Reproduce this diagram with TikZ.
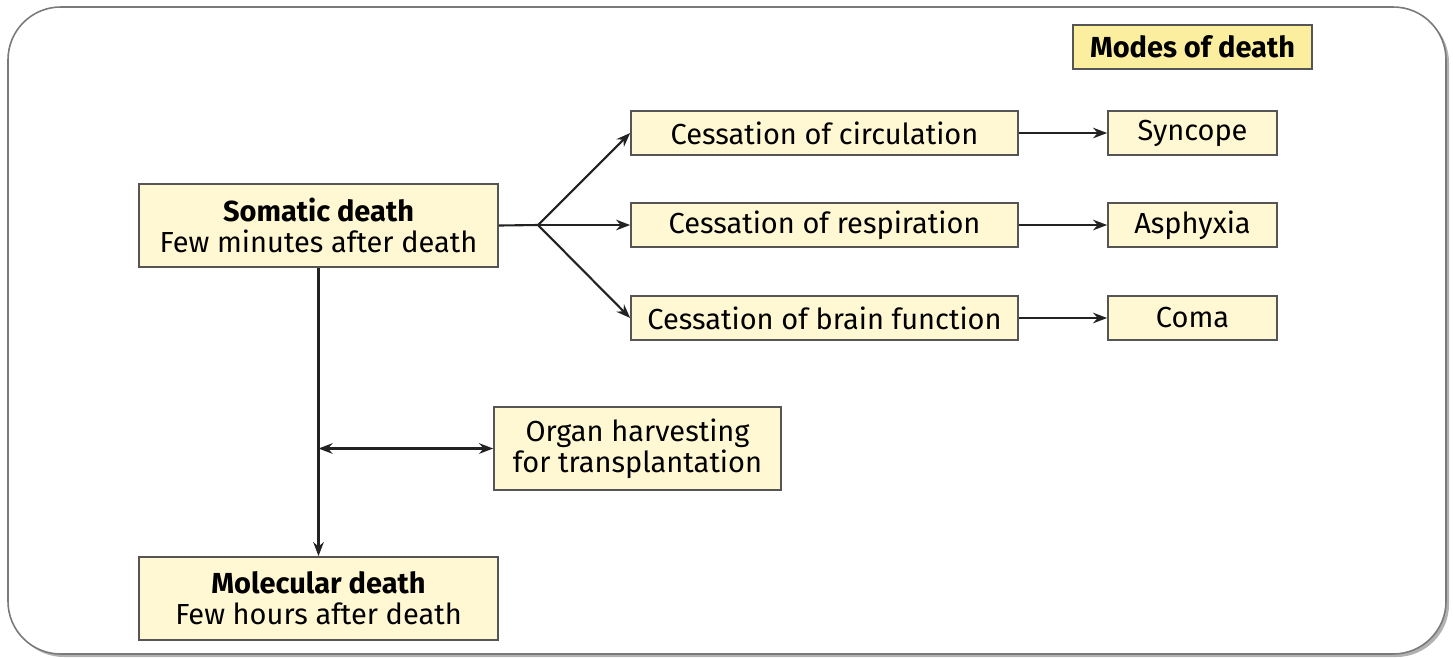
\documentclass[tikz,border=0pt]{standalone}
\usepackage{fontspec}
\setmainfont{Fira Sans}
\usepackage{tikz}
\usetikzlibrary{positioning,arrows.meta}
\definecolor{BoxFill}{HTML}{FFF8D2}
\definecolor{TagFill}{HTML}{FBEF9F}
\definecolor{BoxLine}{HTML}{555555}
\definecolor{FrameLine}{HTML}{7A7A7A}
\definecolor{ArrowInk}{HTML}{222222}

\begin{document}
\begin{tikzpicture}[x=0.02cm,y=-0.02cm,>={Stealth[length=8pt,width=6pt]}]
  \tikzstyle{stage}=[draw=BoxLine,fill=BoxFill,line width=1pt,
    minimum width=7.18cm,minimum height=1.66cm,align=center,inner sep=0pt,
    font=\fontsize{16.5}{17.8}\selectfont]
  \tikzstyle{cease}=[draw=BoxLine,fill=BoxFill,line width=1pt,
    minimum width=7.74cm,minimum height=0.88cm,align=center,inner sep=0pt,
    font=\fontsize{16.5}{17.8}\selectfont]
  \tikzstyle{mode}=[draw=BoxLine,fill=BoxFill,line width=1pt,
    minimum width=3.38cm,minimum height=0.88cm,align=center,inner sep=0pt,
    font=\fontsize{16.5}{17.8}\selectfont]
  \tikzstyle{link}=[->,line width=1.2pt,color=ArrowInk]
  \useasboundingbox (0,0) rectangle (1453,657);
  % frame with a soft shadow
  \fill[black!30,rounded corners=30] (11,10) rectangle (1449,657);
  \draw[FrameLine,fill=white,line width=0.9pt,rounded corners=30]
    (8,7) rectangle (1446,654);
  \node[mode,fill=TagFill,minimum width=4.78cm] (tag) at (1192.5,47)
    {\textbf{Modes of death}};
  \node[stage] (soma) at (318.5,225.5) {\textbf{Somatic death}\\Few minutes
    after death};
  \node[stage] (mol) at (318.5,598.5) {\textbf{Molecular death}\\Few hours
    after death};
  \node[stage,minimum width=5.74cm] (organ) at (637.5,448.5) {Organ
    harvesting\\for transplantation};
  \node[cease] (circ) at (824.5,133) {Cessation of circulation};
  \node[cease] (resp) at (824.5,225) {Cessation of respiration};
  \node[cease] (brain) at (824.5,318) {Cessation of brain function};
  \node[mode] (sync) at (1192.5,133) {Syncope};
  \node[mode] (asph) at (1192.5,225) {Asphyxia};
  \node[mode] (coma) at (1192.5,318) {Coma};
  \coordinate (fork) at (538,225);
  \coordinate (tap) at (soma.south |- organ.west);
  \draw[line width=1.2pt,color=ArrowInk] (soma.east)--(fork);
  \draw[link] (fork)--(circ.west);
  \draw[link] (fork)--(resp.west);
  \draw[link] (fork)--(brain.west);
  \draw[link] (circ)--(sync);
  \draw[link] (resp)--(asph);
  \draw[link] (brain)--(coma);
  \draw[link] (soma)--(mol);
  \draw[link,<->] (tap)--(organ.west);
\end{tikzpicture}
\end{document}
